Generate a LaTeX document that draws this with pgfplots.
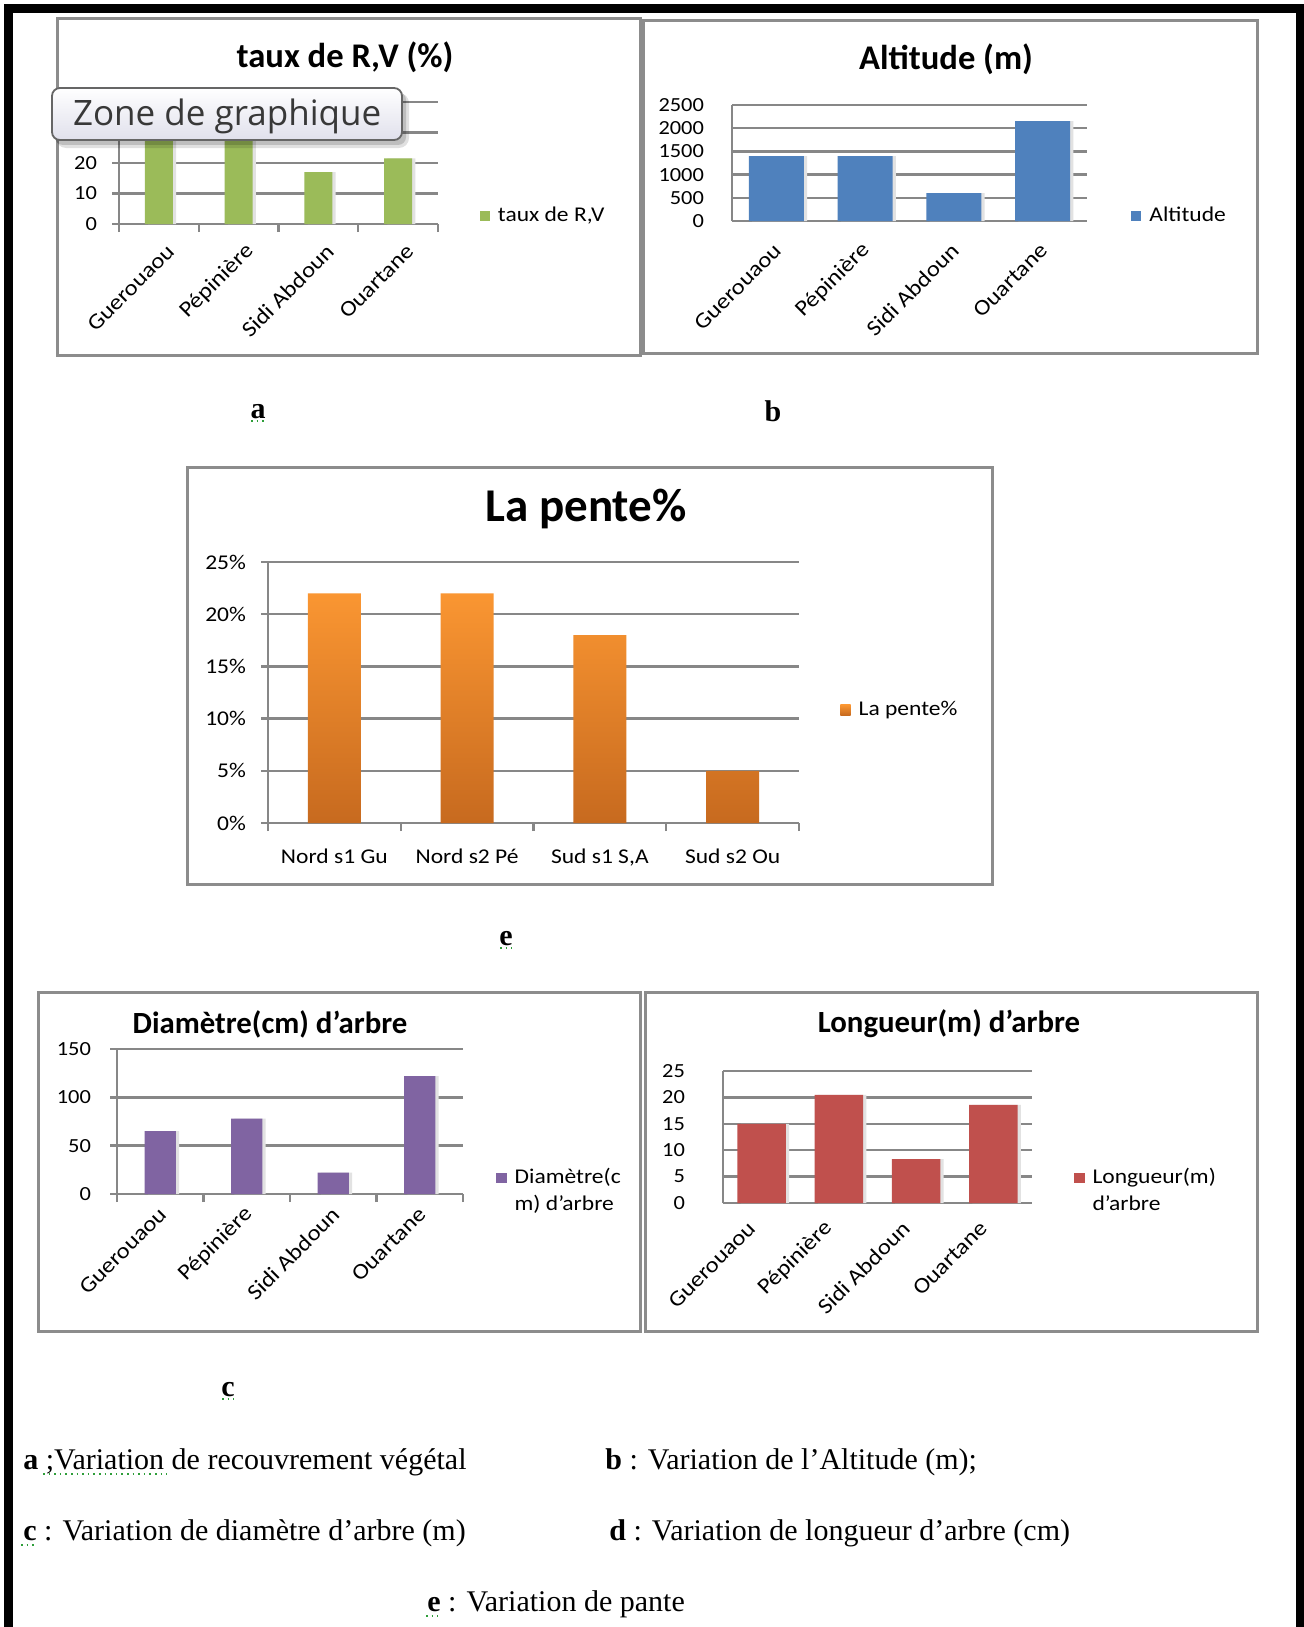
\documentclass[border=0pt]{standalone}
\usepackage{fontspec}
\usepackage{pgfplots}
\pgfplotsset{compat=1.18}
\setmainfont{Liberation Serif}
\newfontfamily\calfont{Carlito}
\newfontfamily\calwide[FakeStretch=1.12]{Carlito}
\newfontfamily\zonefont{Open Sans}

\definecolor{gridgray}{HTML}{878787}
\definecolor{framegray}{HTML}{8C8C8C}
\definecolor{rvgreen}{HTML}{9BBB59}
\definecolor{altblue}{HTML}{4F81BD}
\definecolor{diapurple}{HTML}{8064A2}
\definecolor{lonred}{HTML}{C0504D}
\definecolor{penteTop}{HTML}{FA9632}
\definecolor{penteBot}{HTML}{C76A1F}
\definecolor{spell}{HTML}{2E9E3A}
\definecolor{barshadow}{HTML}{E2E2E2}

\pgfplotsset{
  panel/.style={
    ybar,
    scale only axis, anchor=south west,
    axis x line*=bottom, axis y line*=left,
    axis line style={gridgray, line width=1.3pt},
    ymajorgrids, grid style={gridgray, line width=1.2pt},
    xmin=-0.5, xmax=3.5, ymin=0,
    xtick={0,1,2,3},
    major x tick style={draw=none},
    tick align=outside,
    major tick length=3.5pt,
    minor tick length=4pt,
    ytick style={gridgray, line width=1.2pt},
    minor x tick style={gridgray, line width=1.2pt},
    /pgf/number format/assume math mode=true,
    /pgf/number format/1000 sep={},
    ticklabel style={font=\calwide\fontsize{10}{12}\selectfont, text=black},
    legend style={draw=none, fill=none, inner sep=0pt,
      font=\calwide\fontsize{10.5}{13.5}\selectfont,
      cells={anchor=west, align=left}},
    legend image code/.code={\fill[##1] (0pt,-2.6pt) rectangle (5.2pt,2.6pt);
      \path (0pt,0pt) (7.2pt,0pt);},
  },
  twoline legend/.style={
    legend image code/.code={\fill[##1] (0pt,3.9pt) rectangle (5.2pt,9.1pt);
      \path (0pt,-9.1pt) (7.2pt,9.1pt);}},
  catticks/.style={minor xtick={-0.5,0.5,1.5,2.5,3.5}},
  noticks/.style={ytick style={draw=none}},
  rotlabels/.style 2 args={
    xticklabels={Guerouaou,Pépinière,Sidi Abdoun,Ouartane},
    xticklabel style={xshift=#1, yshift=#2, rotate=45, anchor=east,
      font=\calwide\fontsize{11}{12}\selectfont}},
  % soft shadow drawn to the right of each bar
  shadowbar/.style={fill=barshadow, draw=none, bar shift=1.6pt, forget plot},
  mainbar/.style={bar shift=0pt},
}

\begin{document}
\begin{tikzpicture}[x=0.5pt, y=-0.5pt]
\useasboundingbox (0,0) rectangle (1304,1627);
\fill[white] (0,0) rectangle (1304,1627);

% page frame
\draw[black, line width=4.5pt] (8.5,1640) -- (8.5,8.5) -- (1300.5,8.5) -- (1300.5,1640);

% chart frames
\draw[framegray, line width=1.5pt] (57,19) rectangle (640,355);
\draw[framegray, line width=1.5pt] (643,21) rectangle (1257,353);
\draw[framegray, line width=1.5pt] (187,467) rectangle (992,884);
\draw[framegray, line width=1.5pt] (38,992) rectangle (640,1331);
\draw[framegray, line width=1.5pt] (645,992) rectangle (1257,1331);

% ---- a : vegetation cover
\begin{axis}[panel, catticks, rotlabels={8.3pt}{-6pt},
  at={(59.5pt,-112pt)}, width=159.5pt, height=61pt,
  ymax=40, ytick={0,10,20,30,40},
  bar width=0.35,
  yticklabel style={xshift=-4pt},
  legend style={at={(1.129,0.066)}, anchor=west}]
\addplot[shadowbar] coordinates {(0,33) (1,31) (2,17) (3,21.5)};
\addplot[mainbar, fill=rvgreen, draw=none] coordinates {(0,33) (1,31) (2,17) (3,21.5)};
\addlegendentry{taux de R,V}
\end{axis}
\node[font=\calfont\bfseries\fontsize{17.3}{20}\selectfont] at (345,57) {taux de R,V (\%)};

% tooltip over chart a
\fill[black, opacity=0.12, rounded corners=5] (56,93) rectangle (409,148);
\fill[black, opacity=0.15, rounded corners=4] (55,92) rectangle (406,145);
\draw[rounded corners=4, draw=black!60, line width=0.9pt, top color=white,
  bottom color={rgb,255:red,224;green,224;blue,236}] (52,88) rectangle (402,140);
\node[anchor=west, font=\zonefont\fontsize{17.5}{20}\selectfont, text=black!78] at (66,116) {Zone de graphique};

% ---- b : altitude
\begin{axis}[panel, noticks, rotlabels={3pt}{-7pt},
  at={(366pt,-110.5pt)}, width=177.5pt, height=58pt,
  ymax=2500, ytick={0,500,1000,1500,2000,2500},
  bar width=0.62,
  yticklabel style={xshift=-7pt},
  legend style={at={(1.123,0.043)}, anchor=west}]
\addplot[shadowbar] coordinates {(0,1400) (1,1400) (2,600) (3,2150)};
\addplot[mainbar, fill=altblue, draw=none] coordinates {(0,1400) (1,1400) (2,600) (3,2150)};
\addlegendentry{Altitude}
\end{axis}
\node[font=\calfont\bfseries\fontsize{17.3}{20}\selectfont] at (946,59) {Altitude (m)};

% ---- e : slope
\begin{axis}[panel, catticks,
  at={(134pt,-411.5pt)}, width=265.5pt, height=130.5pt,
  ymax=25, ytick={0,5,10,15,20,25},
  yticklabels={0\%,5\%,10\%,15\%,20\%,25\%},
  xticklabels={Nord s1 Gu,Nord s2 Pé,{Sud s1 S,A},Sud s2 Ou},
  ticklabel style={font=\calwide\fontsize{10.5}{12}\selectfont},
  xticklabel style={yshift=-5.7pt},
  bar width=0.40,
  yticklabel style={xshift=-4pt},
  legend style={at={(1.077,0.433)}, anchor=west}]
\addplot[mainbar, draw=none, top color=penteTop, bottom color=penteBot] coordinates {(0,22) (1,22) (2,18) (3,5)};
\addlegendentry{La pente\%}
\end{axis}
\node[font=\calfont\bfseries\fontsize{23.5}{28}\selectfont] at (586,509) {La pente\%};

% ---- c : diameter
\begin{axis}[panel, twoline legend, catticks, rotlabels={3.6pt}{-2.5pt},
  at={(58.5pt,-597pt)}, width=173pt, height=72.5pt,
  ymax=150, ytick={0,50,100,150},
  bar width=0.36,
  yticklabel style={xshift=-6pt},
  legend style={at={(1.095,0.207)}, anchor=north west}]
\addplot[shadowbar] coordinates {(0,65) (1,78) (2,22) (3,122)};
\addplot[mainbar, fill=diapurple, draw=none] coordinates {(0,65) (1,78) (2,22) (3,122)};
\addlegendentry{Diamètre(c\\m) d’arbre}
\end{axis}
\node[font=\calfont\bfseries\fontsize{15.4}{18}\selectfont] at (270,1024) {Diamètre(cm) d’arbre};

% ---- d : tree length
\begin{axis}[panel, twoline legend, noticks, rotlabels={-2.6pt}{-5pt},
  at={(361.5pt,-601.5pt)}, width=154.5pt, height=66pt,
  ymax=25, ytick={0,5,10,15,20,25},
  bar width=0.63,
  yticklabel style={xshift=-12pt},
  legend style={at={(1.135,0.297)}, anchor=north west}]
\addplot[shadowbar] coordinates {(0,15) (1,20.5) (2,8.3) (3,18.6)};
\addplot[mainbar, fill=lonred, draw=none] coordinates {(0,15) (1,20.5) (2,8.3) (3,18.6)};
\addlegendentry{Longueur(m)\\d’arbre}
\end{axis}
\node[font=\calfont\bfseries\fontsize{15.4}{18}\selectfont] at (949,1024) {Longueur(m) d’arbre};

% panel letters
\node[font=\bfseries\fontsize{15}{18}\selectfont] at (258,412) {a};
\node[font=\bfseries\fontsize{15}{18}\selectfont] at (773,411) {b};
\node[font=\bfseries\fontsize{15}{18}\selectfont] at (506,939) {e};
\node[font=\bfseries\fontsize{15}{18}\selectfont] at (228,1390) {c};
\draw[spell, line width=0.8pt, dotted] (251,421) -- (266,421);
\draw[spell, line width=0.8pt, dotted] (500,948) -- (512,948);
\draw[spell, line width=0.8pt, dotted] (222,1399) -- (234,1399);

% captions
\begin{scope}[every node/.style={anchor=base west, font=\fontsize{15}{18}\selectfont, inner sep=0pt}]
\node at (23,1469) {\textbf{a} ;Variation de recouvrement végétal};
\node at (605,1469) {\textbf{b} : Variation de l’Altitude (m);};
\node at (23,1540) {\textbf{c} : Variation de diamètre d’arbre (m)};
\node at (609,1540) {\textbf{d} : Variation de longueur d’arbre (cm)};
\node at (427,1611) {\textbf{e} : Variation de pante};
\end{scope}
\draw[spell, line width=0.8pt, dotted] (43,1474) -- (167,1474);
\draw[spell, line width=0.8pt, dotted] (21,1545) -- (34,1545);
\draw[spell, line width=0.8pt, dotted] (426,1616) -- (438,1616);
\end{tikzpicture}
\end{document}
